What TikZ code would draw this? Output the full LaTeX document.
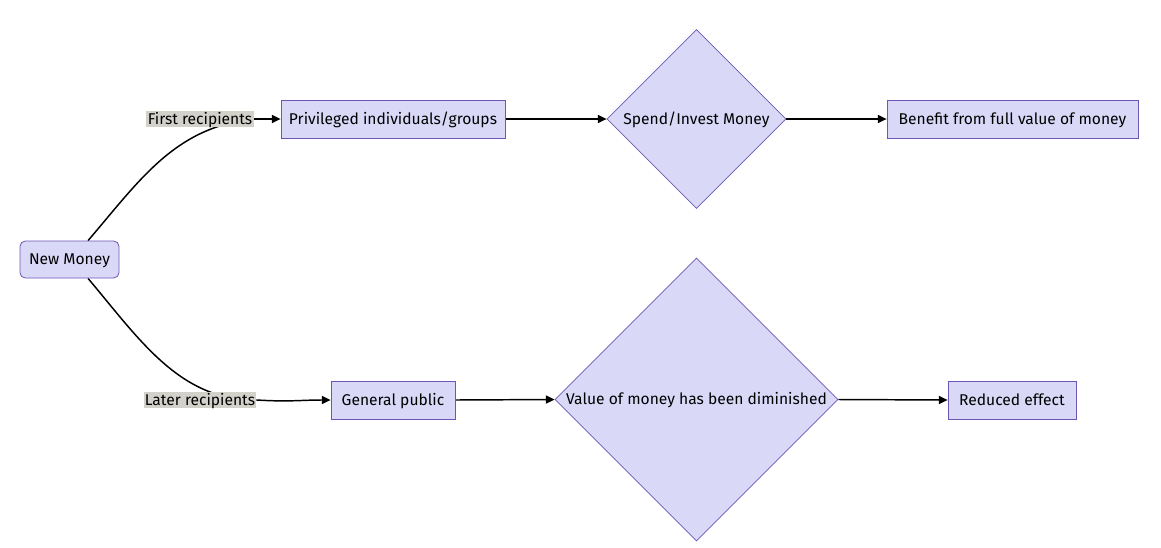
\documentclass[tikz,border=0pt]{standalone}
\usepackage{fontspec}
\setmainfont{Fira Sans}
\usetikzlibrary{shapes.geometric,arrows.meta,calc}
\definecolor{nodefill}{RGB}{218,216,247}
\definecolor{nodestroke}{RGB}{108,88,180}
\definecolor{labelfill}{RGB}{210,210,202}
\pgfdeclarelayer{edges}
\pgfsetlayers{edges,main}
\tikzset{
  txt/.style={font=\fontsize{11.7pt}{13pt}\selectfont,text height=1.0em,text depth=0.18em},
  box/.style={txt,draw=nodestroke,fill=nodefill,line width=0.6pt,inner sep=2pt,minimum height=28.5pt},
  roundbox/.style={box,rounded corners=4pt,minimum height=27.75pt},
  decision/.style={txt,draw=nodestroke,fill=nodefill,line width=0.6pt,diamond,aspect=1,inner sep=0pt},
  elabel/.style={font=\fontsize{11.7pt}{13pt}\selectfont,text height=0.85em,text depth=0.08em,fill=labelfill,inner sep=1pt},
  link/.style={line width=1.1pt,draw=black},
  arrow/.style={link,-{Triangle[length=6.5pt,width=6pt]}}
}
\begin{document}
\begin{tikzpicture}[x=0.75pt,y=-0.75pt]
\path[use as bounding box] (0,0) rectangle (1161,547);
\node[roundbox,minimum width=74.25pt] (nm) at (69.5,259.5) {New Money};
\node[box,minimum width=168pt] (pr) at (393,119) {Privileged individuals/groups};
\node[decision,minimum width=134.25pt,minimum height=134.25pt] (sp) at (696.5,119) {Spend/Invest Money};
\node[box,minimum width=188.25pt] (bf) at (1012.5,119) {Benefit from full value of money};
\node[box,minimum width=93pt] (gp) at (393,400) {General public};
\node[decision,minimum width=212.25pt,minimum height=212.25pt] (vm) at (696.5,399.5) {Value of money has been diminished};
\node[box,minimum width=96pt] (re) at (1012,400) {Reduced effect};
\node[elabel] (l1) at (200,119) {First recipients};
\node[elabel] (l2) at (200,400) {Later recipients};
\begin{pgfonlayer}{edges}
\draw[link] ($(nm.north)+(13.9pt,0)$) .. controls (140,180) and (175,127) .. (l1.east);
\draw[arrow] (l1.east) -- (pr.west);
\draw[link] ($(nm.south)+(13.9pt,0)$) .. controls (140,340) and (180,401) .. (l2.east);
\draw[arrow] (l2.east) .. controls (290,402) and (300,400) .. (gp.west);
\draw[arrow] (pr.east) -- (sp.west);
\draw[arrow] (sp.east) -- (bf.west);
\draw[arrow] (gp.east) -- (vm.west);
\draw[arrow] (vm.east) -- (re.west);
\end{pgfonlayer}
\end{tikzpicture}
\end{document}
